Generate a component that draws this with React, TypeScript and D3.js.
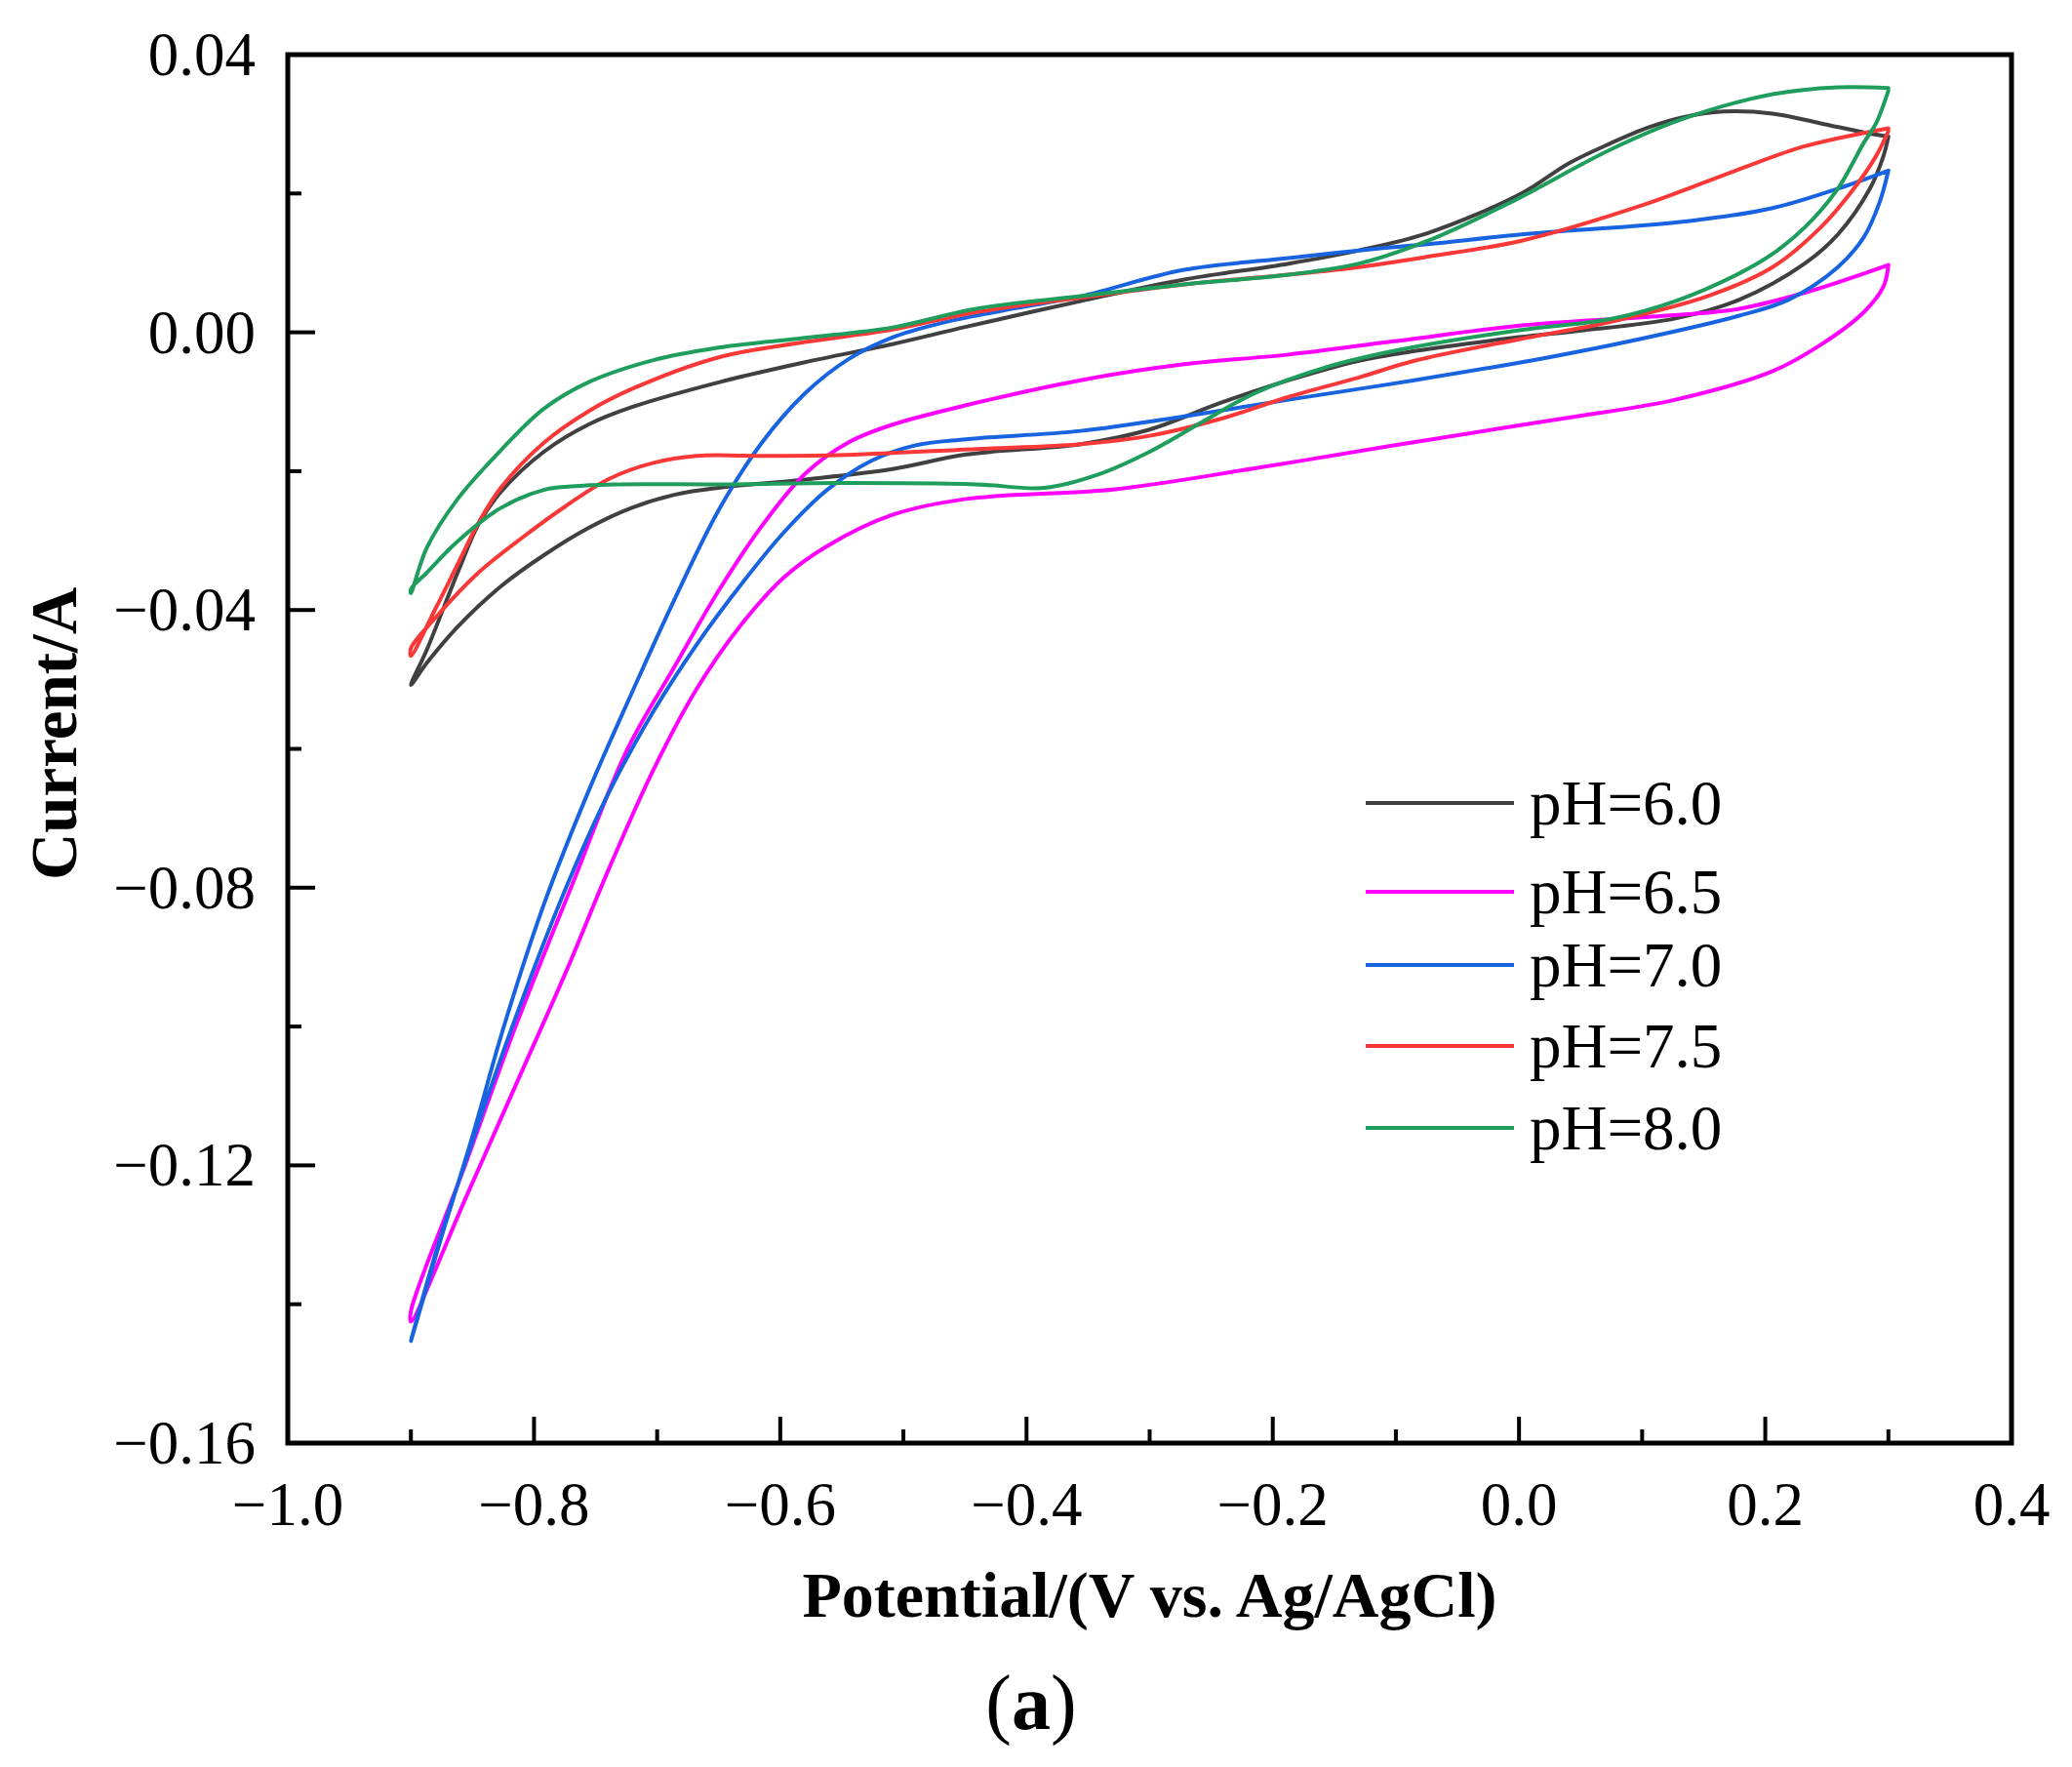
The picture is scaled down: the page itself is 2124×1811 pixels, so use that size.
import * as d3 from "d3";

// Cyclic voltammograms at different pH — [potential (V), current (A)]
// each loop: right vertex -> cathodic sweep to -0.9 V -> anodic sweep back

const SERIES_LABELS = ["pH=6.0", "pH=6.5", "pH=7.0", "pH=7.5", "pH=8.0"];
const SERIES_COLORS = ["#404040", "#ff00ff", "#1763e0", "#fa3838", "#1f9d5c"];

const PH_6_0: [number, number][] = [
  [0.300, 0.0282], [0.296, 0.0254], [0.285, 0.0207], [0.259, 0.0141], [0.232, 0.0099],
  [0.179, 0.0047], [0.127, 0.0020], [0.047, 0.0002], [0.000, -0.0007], [-0.085, -0.0027],
  [-0.130, -0.0041], [-0.187, -0.0069], [-0.243, -0.0102], [-0.300, -0.0140], [-0.356, -0.0161],
  [-0.449, -0.0176], [-0.509, -0.0197], [-0.580, -0.0212], [-0.650, -0.0224], [-0.686, -0.0234],
  [-0.721, -0.0253], [-0.756, -0.0282], [-0.792, -0.0321], [-0.827, -0.0366], [-0.862, -0.0424],
  [-0.887, -0.0476], [-0.900, -0.0508],
  [-0.887, -0.0457], [-0.862, -0.0346], [-0.845, -0.0276], [-0.827, -0.0230], [-0.792, -0.0172],
  [-0.756, -0.0133], [-0.721, -0.0108], [-0.650, -0.0072], [-0.580, -0.0043], [-0.509, -0.0017],
  [-0.449, 0.0008], [-0.356, 0.0045], [-0.272, 0.0076], [-0.187, 0.0099], [-0.130, 0.0118],
  [-0.074, 0.0143], [0.002, 0.0200], [0.040, 0.0243], [0.074, 0.0272], [0.105, 0.0295],
  [0.134, 0.0310], [0.166, 0.0318], [0.206, 0.0315], [0.245, 0.0301], [0.280, 0.0288],
  [0.300, 0.0282],
];

const PH_6_5: [number, number][] = [
  [0.300, 0.0097], [0.296, 0.0066], [0.280, 0.0029], [0.245, -0.0018], [0.206, -0.0056],
  [0.127, -0.0097], [0.047, -0.0121], [0.000, -0.0134], [-0.102, -0.0163], [-0.215, -0.0196],
  [-0.328, -0.0226], [-0.449, -0.0240], [-0.509, -0.0263], [-0.562, -0.0308], [-0.597, -0.0353],
  [-0.633, -0.0424], [-0.668, -0.0514], [-0.703, -0.0630], [-0.739, -0.0772], [-0.774, -0.0921],
  [-0.810, -0.1065], [-0.855, -0.1245], [-0.900, -0.1425],
  [-0.900, -0.1410], [-0.856, -0.1200], [-0.815, -0.1000], [-0.770, -0.0800], [-0.724, -0.0600],
  [-0.686, -0.0482], [-0.650, -0.0372], [-0.615, -0.0279], [-0.580, -0.0204], [-0.544, -0.0158],
  [-0.509, -0.0133], [-0.449, -0.0105], [-0.356, -0.0069], [-0.272, -0.0046], [-0.187, -0.0032],
  [-0.102, -0.0013], [0.002, 0.0010], [0.047, 0.0016], [0.120, 0.0024], [0.179, 0.0034],
  [0.232, 0.0057], [0.300, 0.0097],
];

const PH_7_0: [number, number][] = [
  [0.300, 0.0233], [0.293, 0.0188], [0.280, 0.0137], [0.259, 0.0094], [0.219, 0.0047],
  [0.179, 0.0024], [0.100, -0.0009], [0.021, -0.0037], [-0.085, -0.0069], [-0.187, -0.0097],
  [-0.272, -0.0121], [-0.356, -0.0142], [-0.449, -0.0154], [-0.491, -0.0163], [-0.526, -0.0185],
  [-0.562, -0.0227], [-0.597, -0.0288], [-0.633, -0.0366], [-0.668, -0.0450], [-0.703, -0.0546],
  [-0.739, -0.0662], [-0.774, -0.0800], [-0.817, -0.0997], [-0.850, -0.1165], [-0.878, -0.1315],
  [-0.900, -0.1453],
  [-0.876, -0.1308], [-0.850, -0.1158], [-0.824, -0.0997], [-0.792, -0.0824], [-0.756, -0.0662],
  [-0.721, -0.0521], [-0.686, -0.0385], [-0.650, -0.0256], [-0.615, -0.0159], [-0.580, -0.0088],
  [-0.544, -0.0038], [-0.510, -0.0008], [-0.470, 0.0013], [-0.420, 0.0031], [-0.356, 0.0052],
  [-0.272, 0.0090], [-0.187, 0.0107], [-0.130, 0.0118], [-0.074, 0.0127], [0.002, 0.0141],
  [0.137, 0.0160], [0.206, 0.0179], [0.259, 0.0207], [0.300, 0.0233],
];

const PH_7_5: [number, number][] = [
  [0.300, 0.0290], [0.290, 0.0254], [0.272, 0.0207], [0.245, 0.0151], [0.206, 0.0094],
  [0.153, 0.0052], [0.074, 0.0015], [0.000, -0.0010], [-0.085, -0.0041], [-0.130, -0.0065],
  [-0.187, -0.0093], [-0.243, -0.0125], [-0.300, -0.0149], [-0.356, -0.0161], [-0.441, -0.0168],
  [-0.553, -0.0177], [-0.614, -0.0178], [-0.668, -0.0178], [-0.703, -0.0188], [-0.739, -0.0211],
  [-0.774, -0.0250], [-0.809, -0.0295], [-0.845, -0.0346], [-0.880, -0.0411], [-0.900, -0.0455],
  [-0.900, -0.0466], [-0.880, -0.0398], [-0.862, -0.0334], [-0.845, -0.0274], [-0.827, -0.0224],
  [-0.792, -0.0159], [-0.756, -0.0114], [-0.721, -0.0082], [-0.650, -0.0036], [-0.580, -0.0014],
  [-0.509, 0.0004], [-0.441, 0.0029], [-0.356, 0.0050], [-0.272, 0.0069], [-0.187, 0.0083],
  [-0.130, 0.0094], [-0.074, 0.0109], [0.002, 0.0132], [0.100, 0.0183], [0.179, 0.0235],
  [0.232, 0.0268], [0.300, 0.0294],
];

const PH_8_0: [number, number][] = [
  [0.300, 0.0348], [0.290, 0.0301], [0.280, 0.0273], [0.259, 0.0207], [0.232, 0.0151],
  [0.206, 0.0113], [0.179, 0.0085], [0.127, 0.0045], [0.074, 0.0019], [0.000, 0.0003],
  [-0.102, -0.0027], [-0.158, -0.0051], [-0.215, -0.0088], [-0.258, -0.0130], [-0.300, -0.0172],
  [-0.342, -0.0205], [-0.385, -0.0224], [-0.441, -0.0219], [-0.553, -0.0217], [-0.644, -0.0219],
  [-0.735, -0.0219], [-0.770, -0.0222], [-0.792, -0.0227], [-0.827, -0.0253], [-0.862, -0.0301],
  [-0.887, -0.0346], [-0.900, -0.0370],
  [-0.900, -0.0376], [-0.887, -0.0310], [-0.862, -0.0240], [-0.827, -0.0170], [-0.792, -0.0110],
  [-0.756, -0.0072], [-0.703, -0.0040], [-0.650, -0.0022], [-0.580, -0.0008], [-0.509, 0.0007],
  [-0.441, 0.0034], [-0.356, 0.0052], [-0.272, 0.0069], [-0.187, 0.0083], [-0.130, 0.0099],
  [-0.074, 0.0132], [-0.006, 0.0188], [0.074, 0.0263], [0.134, 0.0308], [0.206, 0.0343],
  [0.259, 0.0353], [0.300, 0.0352],
];

const SERIES = [PH_6_0, PH_6_5, PH_7_0, PH_7_5, PH_8_0];

const X_TICKS = [-1.0, -0.8, -0.6, -0.4, -0.2, 0.0, 0.2, 0.4];
const X_MINOR = [-0.9, -0.7, -0.5, -0.3, -0.1, 0.1, 0.3];
const Y_TICKS = [-0.16, -0.12, -0.08, -0.04, 0.0, 0.04];
const Y_MINOR = [-0.14, -0.1, -0.06, -0.02, 0.02];

// layout (px)
const W = 2124;
const H = 1811;
const PLOT = { left: 295, right: 2062, top: 56, bottom: 1479 };
const LEGEND = { x0: 1400, x1: 1552, textX: 1568, rows: [823, 914, 989, 1072, 1156] };
const FONT = "'Liberation Serif','Times New Roman',Times,serif";

export default function App() {
  const x = d3.scaleLinear().domain([-1.0, 0.4]).range([PLOT.left, PLOT.right]);
  const y = d3.scaleLinear().domain([-0.16, 0.04]).range([PLOT.bottom, PLOT.top]);
  const fx = d3.format(".1f");
  const fy = d3.format(".2f");

  const line = d3.line<[number, number]>()
    .x((d) => x(d[0]))
    .y((d) => y(d[1]))
    .curve(d3.curveCatmullRom.alpha(0.5));

  return (
    <div style={{ position: "absolute", left: 0, top: 0, width: W, height: H, background: "#fff" }}>
      <svg width={W} height={H} style={{ display: "block" }}>
        <rect x={0} y={0} width={W} height={H} fill="#fff" />

        {/* curves */}
        {SERIES.map((s, i) => (
          <path key={SERIES_LABELS[i]} d={line(s) ?? ""} fill="none"
            stroke={SERIES_COLORS[i]} strokeWidth={4} strokeLinejoin="round" strokeLinecap="round" />
        ))}

        {/* ticks (inward) */}
        {X_TICKS.map((t) => (
          <line key={`xt${t}`} x1={x(t)} x2={x(t)} y1={PLOT.bottom} y2={PLOT.bottom - 27}
            stroke="#000" strokeWidth={4} />
        ))}
        {X_MINOR.map((t) => (
          <line key={`xm${t}`} x1={x(t)} x2={x(t)} y1={PLOT.bottom} y2={PLOT.bottom - 14}
            stroke="#000" strokeWidth={4} />
        ))}
        {Y_TICKS.map((t) => (
          <line key={`yt${t}`} x1={PLOT.left} x2={PLOT.left + 28} y1={y(t)} y2={y(t)}
            stroke="#000" strokeWidth={4} />
        ))}
        {Y_MINOR.map((t) => (
          <line key={`ym${t}`} x1={PLOT.left} x2={PLOT.left + 14} y1={y(t)} y2={y(t)}
            stroke="#000" strokeWidth={4} />
        ))}

        {/* frame */}
        <rect x={PLOT.left} y={PLOT.top} width={PLOT.right - PLOT.left} height={PLOT.bottom - PLOT.top}
          fill="none" stroke="#000" strokeWidth={5} />

        {/* tick labels */}
        {X_TICKS.map((t) => (
          <text key={`xl${t}`} x={x(t)} y={PLOT.bottom + 84} textAnchor="middle"
            fontFamily={FONT} fontSize={63} fill="#000">{fx(t)}</text>
        ))}
        {Y_TICKS.map((t) => (
          <text key={`yl${t}`} x={PLOT.left - 33} y={y(t) + 21} textAnchor="end"
            fontFamily={FONT} fontSize={63} fill="#000">{fy(t)}</text>
        ))}

        {/* axis titles */}
        <text x={(PLOT.left + PLOT.right) / 2} y={1657} textAnchor="middle"
          fontFamily={FONT} fontSize={66} fontWeight="bold" fill="#000">
          Potential/(V vs. Ag/AgCl)
        </text>
        <text transform="translate(78, 752) rotate(-90)" textAnchor="middle"
          fontFamily={FONT} fontSize={67} fontWeight="bold" fill="#000">
          Current/A
        </text>

        {/* legend */}
        {SERIES_LABELS.map((lab, i) => (
          <g key={`lg${lab}`}>
            <line x1={LEGEND.x0} x2={LEGEND.x1} y1={LEGEND.rows[i]} y2={LEGEND.rows[i]}
              stroke={SERIES_COLORS[i]} strokeWidth={4} />
            <text x={LEGEND.textX} y={LEGEND.rows[i] + 22} fontFamily={FONT} fontSize={65} fill="#000">
              {lab}
            </text>
          </g>
        ))}

        {/* panel label */}
        <text x={1057} y={1772} textAnchor="middle" fontFamily={FONT} fontSize={80} fill="#000">
          (<tspan fontWeight="bold">a</tspan>)
        </text>
      </svg>
    </div>
  );
}
